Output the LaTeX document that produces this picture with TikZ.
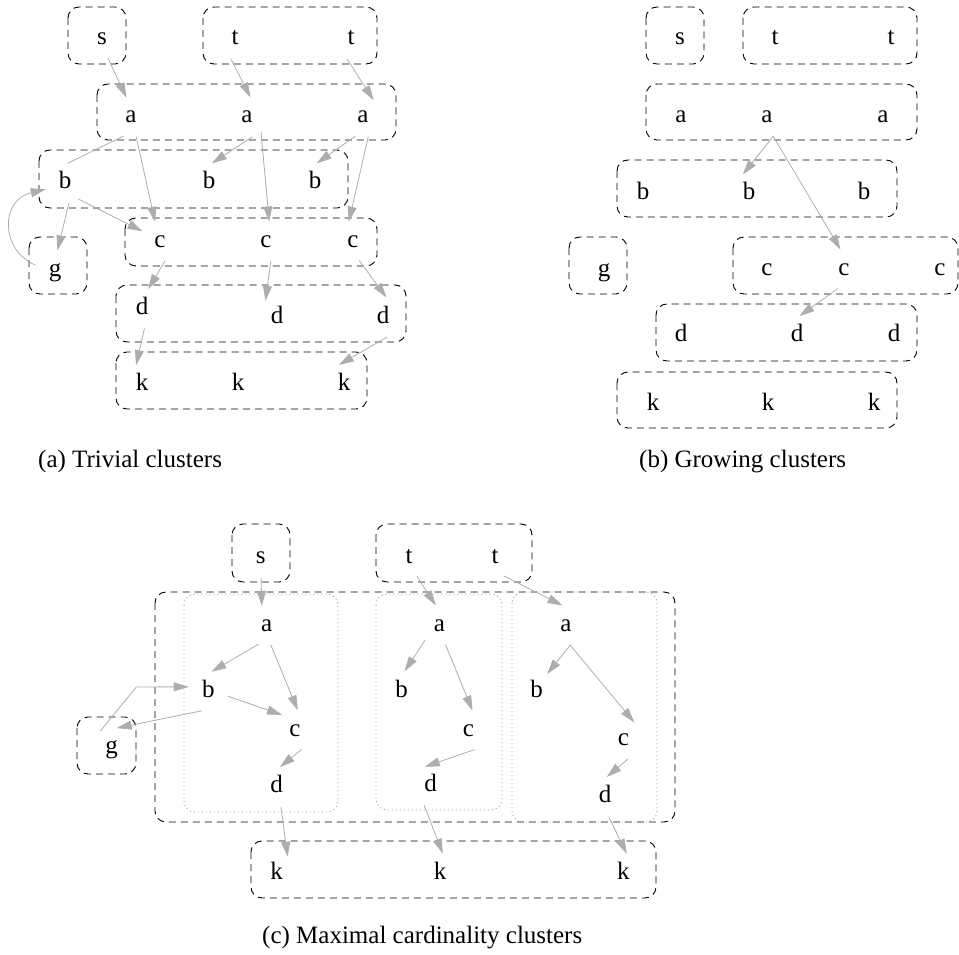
\documentclass[tikz,border=0pt]{standalone}
\usepackage{fontspec}
\setmainfont{Liberation Serif}
\usetikzlibrary{arrows.meta}
\begin{document}
\begin{tikzpicture}[x=1pt,y=-1pt,
  lbl/.style={circle,minimum size=40pt,inner sep=0pt,text height=11.2pt,text depth=0pt,font=\fontsize{25}{30}\selectfont},
  cluster/.style={draw=black,line width=0.9pt,dash pattern=on 7pt off 5pt,rounded corners=11pt},
  subcl/.style={draw=black!35,line width=0.8pt,dash pattern=on 1.2pt off 2.8pt,rounded corners=11pt},
  edge/.style={draw=black!32,line width=0.8pt,-{Triangle[length=15pt,width=9pt,fill=black!32]}},
  plainedge/.style={draw=black!32,line width=0.8pt},
  captxt/.style={anchor=base west,inner sep=0pt,font=\fontsize{25}{30}\selectfont}]
\useasboundingbox (0,0) rectangle (959,955);

% ---------------- panel (a) ----------------
\draw[cluster] (68,7) rectangle (126,64);
\draw[cluster] (203,7) rectangle (377,64);
\draw[cluster] (97,84) rectangle (396,140);
\draw[cluster] (39,150) rectangle (348,208);
\draw[cluster] (125,218) rectangle (377,266);
\draw[cluster] (29,237) rectangle (87,294);
\draw[cluster] (116,285) rectangle (406,342);
\draw[cluster] (116,352) rectangle (367,409);

\node[lbl] (As) at (102,39.4) {s};
\node[lbl] (At1) at (235,39.4) {t};
\node[lbl] (At2) at (351,39.4) {t};
\node[lbl] (Aa1) at (131,117.4) {a};
\node[lbl] (Aa2) at (247,117.4) {a};
\node[lbl] (Aa3) at (363,117.4) {a};
\node[lbl] (Ab1) at (65,183.4) {b};
\node[lbl] (Ab2) at (209,183.4) {b};
\node[lbl] (Ab3) at (315,183.4) {b};
\node[lbl] (Ac1) at (160,241.4) {c};
\node[lbl] (Ac2) at (266,241.4) {c};
\node[lbl] (Ac3) at (353,241.4) {c};
\node[lbl] (Ag) at (55,270.4) {g};
\node[lbl] (Ad1) at (142,308.4) {d};
\node[lbl] (Ad2) at (277,317.4) {d};
\node[lbl] (Ad3) at (383,317.4) {d};
\node[lbl] (Ak1) at (142,384.4) {k};
\node[lbl] (Ak2) at (238,384.4) {k};
\node[lbl] (Ak3) at (344,384.4) {k};

\draw[edge] (As.-72) -- (Aa1.103);
\draw[edge] (At1.259) -- (Aa2.80);
\draw[edge] (At2.259) -- (Aa3.58);
\draw[plainedge] (Aa1.-112) -- (Ab1.83);
\draw[edge] (Aa1.-75) -- (Ac1.104);
\draw[edge] (Aa2.-75) -- (Ab2.82);
\draw[edge] (Aa2.-46) -- (Ac2.81);
\draw[edge] (Aa3.-112) -- (Ab3.85);
\draw[edge] (Aa3.-75) -- (Ac3.102);
\draw[edge] (Ab1.-79) -- (Ag.83);
\draw[edge] (Ab1.-50) -- (Ac1.150);
\draw[edge] (Ag.165) .. controls (0,250) and (0,200) .. (Ab1.197);
\draw[edge] (Ac1.-76) -- (Ad1.72);
\draw[edge] (Ac2.-76) -- (Ad2.125);
\draw[edge] (Ac3.-72) -- (Ad3.80);
\draw[edge] (Ad1.-83) -- (Ak1.107);
\draw[edge] (Ad3.-79) -- (Ak3.105);

\node[captxt] (capA) at (38,467) {(a) Trivial clusters};

% ---------------- panel (b) ----------------
\draw[cluster] (646,7) rectangle (704,64);
\draw[cluster] (743,7) rectangle (917,64);
\draw[cluster] (646,84) rectangle (917,140);
\draw[cluster] (617,160) rectangle (897,217);
\draw[cluster] (569,237) rectangle (627,294);
\draw[cluster] (733,237) rectangle (958,294);
\draw[cluster] (656,304) rectangle (917,361);
\draw[cluster] (617,372) rectangle (897,428);

\node[lbl] (Bs) at (680,39.4) {s};
\node[lbl] (Bt1) at (775,39.4) {t};
\node[lbl] (Bt2) at (891,39.4) {t};
\node[lbl] (Ba1) at (681,117.1) {a};
\node[lbl] (Ba2) at (767,117.1) {a};
\node[lbl] (Ba3) at (883,117.1) {a};
\node[lbl] (Bb1) at (643,193.7) {b};
\node[lbl] (Bb2) at (749,193.7) {b};
\node[lbl] (Bb3) at (864,193.7) {b};
\node[lbl] (Bg) at (604,270.4) {g};
\node[lbl] (Bc1) at (767,269.4) {c};
\node[lbl] (Bc2) at (844,269.4) {c};
\node[lbl] (Bc3) at (940,269.4) {c};
\node[lbl] (Bd1) at (681,336.1) {d};
\node[lbl] (Bd2) at (797,336.1) {d};
\node[lbl] (Bd3) at (894,336.1) {d};
\node[lbl] (Bk1) at (653,404.4) {k};
\node[lbl] (Bk2) at (768,404.4) {k};
\node[lbl] (Bk3) at (874,404.4) {k};

\draw[edge] (Ba2.-72) -- (Bb2.108);
\draw[edge] (Ba2.-72) -- (Bc2.100);
\draw[edge] (Bc2.-108) -- (Bd2.83);

\node[captxt] (capB) at (639,467) {(b) Growing clusters};

% ---------------- panel (c) ----------------
\draw[cluster] (232,524) rectangle (290,582);
\draw[cluster] (376,524) rectangle (532,582);
\draw[cluster] (155,592) rectangle (675,822);
\draw[cluster] (77,717) rectangle (136,774);
\draw[cluster] (251,841) rectangle (656,898);
\draw[subcl] (184,594) rectangle (338,812);
\draw[subcl] (376,594) rectangle (502,810);
\draw[subcl] (512,592) rectangle (657,822);

\node[lbl] (Cs) at (260.7,557.7) {s};
\node[lbl] (Ct1) at (409,557.7) {t};
\node[lbl] (Ct2) at (495,557.7) {t};
\node[lbl] (Ca1) at (266.7,625.4) {a};
\node[lbl] (Ca2) at (439.3,625.4) {a};
\node[lbl] (Ca3) at (566,625.4) {a};
\node[lbl] (Cb1) at (208.3,691.7) {b};
\node[lbl] (Cb2) at (401.7,691.4) {b};
\node[lbl] (Cb3) at (536.7,691.4) {b};
\node[lbl] (Cc1) at (295,730.4) {c};
\node[lbl] (Cc2) at (468.3,730.4) {c};
\node[lbl] (Cc3) at (623.3,739.4) {c};
\node[lbl] (Cd1) at (276.7,787.1) {d};
\node[lbl] (Cd2) at (430.7,786.1) {d};
\node[lbl] (Cd3) at (605,797.1) {d};
\node[lbl] (Cg) at (111.7,747.7) {g};
\node[lbl] (Ck1) at (276.7,873.7) {k};
\node[lbl] (Ck2) at (440,873.7) {k};
\node[lbl] (Ck3) at (623.3,873.7) {k};

\draw[edge] (Cs.-89) -- (Ca1.104);
\draw[edge] (Ct1.-67) -- (Ca2.100);
\draw[edge] (Ct2.-64) -- (Ca3.100);
\draw[edge] (Ca1.-113) -- (Cb1.81);
\draw[edge] (Ca1.-78) -- (Cc1.82);
\draw[edge] (Cb1.-13) -- (Cc1.130);
\draw[edge] (Cb1.-109) -- (Cg.76);
\draw[edge] (Cg.124) -- ++(36,-44) -- (Cb1.166);
\draw[edge] (Cc1.-71) -- (Cd1.81);
\draw[edge] (Cd1.-78) -- (Ck1.57);
\draw[edge] (Ca2.-134) -- (Cb2.82);
\draw[edge] (Ca2.-72) -- (Cc2.78);
\draw[edge] (Cc2.-72) -- (Cd2.107);
\draw[edge] (Cd2.-109) -- (Ck2.82);
\draw[edge] (Ca3.-78) -- (Cb3.59);
\draw[edge] (Ca3.-78) -- (Cc3.57);
\draw[edge] (Cc3.-77) -- (Cd3.85);
\draw[edge] (Cd3.-79) -- (Ck3.80);

\node[captxt] (capC) at (262,943) {(c) Maximal cardinality clusters};
\end{tikzpicture}
\end{document}
